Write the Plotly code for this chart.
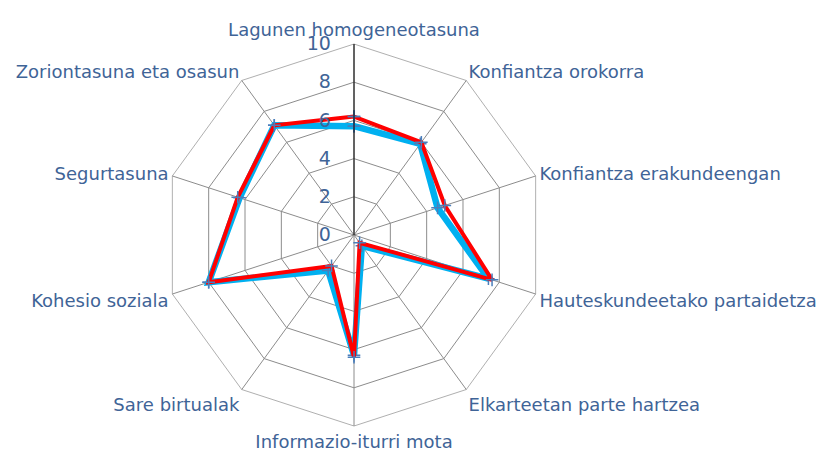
import plotly.graph_objects as go

categories = [
    "Lagunen homogeneotasuna",
    "Konfiantza orokorra",
    "Konfiantza erakundeengan",
    "Hauteskundeetako partaidetza",
    "Elkarteetan parte hartzea",
    "Informazio-iturri mota",
    "Sare birtualak",
    "Kohesio soziala",
    "Segurtasuna",
    "Zoriontasuna eta osasun",
]
series_blue = [5.7, 5.9, 4.6, 7.4, 0.7, 6.3, 2.3, 8.0, 6.3, 7.1]
series_red = [6.2, 6.0, 5.0, 7.6, 0.5, 6.4, 2.0, 8.0, 6.4, 7.1]
tick_vals = [0, 2, 4, 6, 8, 10]

text_color = "#3F6497"
grid_color = "#8C8C8C"

def closed(v):
    return list(v) + [v[0]]

fig = go.Figure()
fig.add_trace(go.Scatterpolar(
    r=closed(series_blue), theta=closed(categories), mode="lines+markers",
    line=dict(color="#00B0F0", width=6.5),
    marker=dict(symbol="cross-thin", size=9, line=dict(color="#4A7EBB", width=1.5)),
    showlegend=False, cliponaxis=False,
))
fig.add_trace(go.Scatterpolar(
    r=closed(series_red), theta=closed(categories), mode="lines+markers",
    line=dict(color="#FF0000", width=4),
    marker=dict(symbol="cross-thin", size=9, line=dict(color="#4A7EBB", width=1.5)),
    showlegend=False, cliponaxis=False,
))

fig.update_layout(
    width=825, height=454,
    margin=dict(l=155, r=288, t=36, b=36),
    paper_bgcolor="white",
    plot_bgcolor="white",
    font=dict(family="DejaVu Sans, Verdana, sans-serif", color=text_color),
    polar=dict(
        bgcolor="white",
        gridshape="linear",
        domain=dict(x=[0, 1], y=[0, 1]),
        radialaxis=dict(
            range=[0, 10], tickvals=tick_vals, ticktext=[str(t) for t in tick_vals],
            angle=90, side="counterclockwise", tickangle=90,
            showline=True, linecolor="black", linewidth=1,
            showgrid=True, gridcolor=grid_color, gridwidth=0.7,
            ticks="outside", ticklen=16, tickcolor="rgba(0,0,0,0)",
            tickfont=dict(size=19, color=text_color),
        ),
        angularaxis=dict(
            direction="clockwise", rotation=90,
            showline=True, linecolor=grid_color, linewidth=0.7,
            showgrid=True, gridcolor=grid_color, gridwidth=0.7,
            ticks="", tickfont=dict(size=18, color=text_color),
        ),
    ),
)

fig.write_html("out.html")
